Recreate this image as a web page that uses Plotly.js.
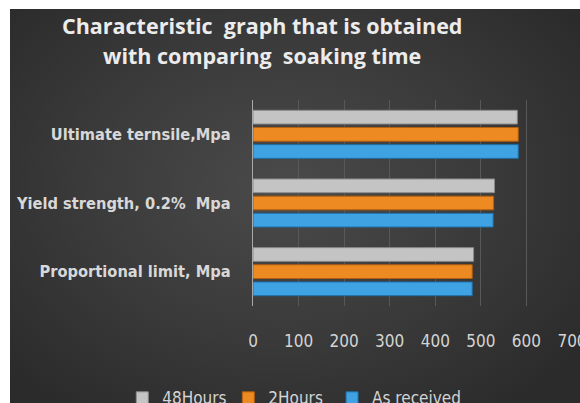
<!DOCTYPE html>
<html>
<head>
<meta charset="utf-8">
<script src="https://cdn.plot.ly/plotly-3.0.1.min.js"></script>
<style>
  html, body { margin: 0; padding: 0; background: #ffffff; width: 580px; height: 403px; overflow: hidden; }
  #chart {
    position: absolute; left: 10px; top: 9px; width: 570px; height: 394px;
    background: radial-gradient(ellipse 65% 70% at 48% 45%, #4a4a4a 0%, #3a3a3a 55%, #2b2b2b 100%);
  }
</style>
</head>
<body>
<div id="chart"></div>
<script>
const categories = ["Proportional limit, Mpa", "Yield strength, 0.2%\u00a0 Mpa", "Ultimate ternsile,Mpa"];
const seriesNames = ["As received", "2Hours", "48Hours"];
const asReceived = [481, 527, 582];
const hours2 = [481, 528, 582];
const hours48 = [484, 530, 580];
const xTicks = [0, 100, 200, 300, 400, 500, 600, 700];
const titleLines = ["Characteristic  graph that is obtained", "with comparing  soaking time"];

const colors = ["#3fa2e2", "#ee8a22", "#c4c4c4"];
const lineColors = ["#1f6fa8", "#b45f0e", "#8a8a8a"];
const values = [asReceived, hours2, hours48];
const legendIds = ["legend3", "legend2", "legend"];
const legendX = [0.565, 0.383, 0.197];

const traces = values.map((v, i) => ({
  type: "bar",
  orientation: "h",
  name: seriesNames[i],
  y: categories,
  x: v,
  legend: legendIds[i],
  marker: { color: colors[i], line: { color: lineColors[i], width: 1 } }
}));

const labelFont = "'DejaVu Sans Condensed', 'Liberation Sans Narrow', sans-serif";
const titleFont = { family: "'Open Sans', sans-serif", size: 21.5, color: "#ececec", weight: "bold" };

function legendBox(x) {
  return {
    orientation: "h",
    xref: "container", yref: "container",
    x: x, xanchor: "left",
    y: 0.012, yanchor: "middle",
    font: { family: labelFont, size: 17, color: "#d4d4d4" },
    bgcolor: "rgba(0,0,0,0)",
    itemwidth: 30
  };
}

const layout = {
  width: 570,
  height: 394,
  paper_bgcolor: "rgba(0,0,0,0)",
  plot_bgcolor: "rgba(0,0,0,0)",
  margin: { l: 243, r: 8, t: 90.5, b: 96.5, autoexpand: false },
  barmode: "group",
  bargap: 0.25,
  bargroupgap: 0.2,
  annotations: [
    { text: titleLines[0], xref: "paper", yref: "paper", x: 0.028, y: 1.36, xanchor: "center", yanchor: "middle", showarrow: false, font: titleFont },
    { text: titleLines[1], xref: "paper", yref: "paper", x: 0.028, y: 1.215, xanchor: "center", yanchor: "middle", showarrow: false, font: titleFont }
  ],
  xaxis: {
    range: [0, 700],
    tickvals: xTicks,
    ticktext: xTicks.map(String),
    showgrid: true,
    gridcolor: "#585858",
    gridwidth: 1,
    zeroline: false,
    showline: false,
    ticks: "",
    automargin: false,
    ticklabeloverflow: "allow",
    ticklabelstandoff: 23,
    tickfont: { family: labelFont, size: 17, color: "#d4d4d4" },
    fixedrange: true
  },
  yaxis: {
    type: "category",
    categoryarray: categories,
    showgrid: false,
    zeroline: false,
    showline: true,
    linecolor: "#a8a8a8",
    linewidth: 1,
    ticks: "",
    automargin: false,
    ticklabelstandoff: 18,
    tickfont: { family: labelFont, size: 16.3, color: "#d8d8d8", weight: "bold" },
    fixedrange: true
  },
  showlegend: true,
  legend: legendBox(legendX[2]),
  legend2: legendBox(legendX[1]),
  legend3: legendBox(legendX[0]),
  hovermode: false
};

Plotly.newPlot("chart", traces, layout, { displayModeBar: false, staticPlot: true });
</script>
</body>
</html>
